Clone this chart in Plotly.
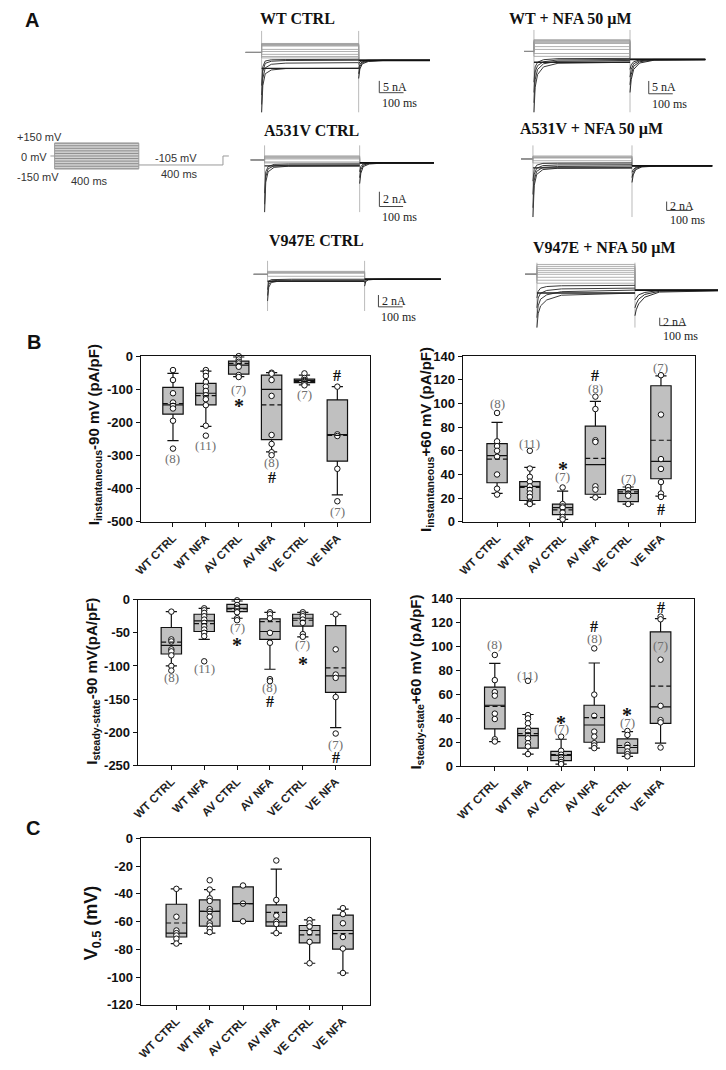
import plotly.graph_objects as go

W, H = 726, 1070
OFF = 8  # the page body margin shifts the figure by this many pixels

CATS = ["WT CTRL", "WT NFA", "AV CTRL", "AV NFA", "VE CTRL", "VE NFA"]

# ---- B top left: I instantaneous at -90 mV (pA/pF)
INST90_Q1 = [-175, -147, -54, -252, -80, -317]
INST90_MED = [-147, -112, -27, -100, -73, -237]
INST90_Q3 = [-94, -82, -15, -57, -69, -132]
INST90_LO = [-255, -212, -62, -289, -87, -419]
INST90_HI = [-52, -45, -2, -50, -57, -92]
INST90_MEAN = [-143, -119, -22, -147, -77, -239]
INST90_PTS = [
    [-42, -72, -112, -140, -150, -158, -195, -279],
    [-42, -50, -60, -78, -92, -105, -118, -130, -148, -210, -240],
    [0, -10, -17, -22, -32, -57, -63],
    [-50, -53, -72, -120, -238, -265, -290, -299],
    [-52, -66, -72, -75, -78, -82, -88],
    [-92, -236, -241, -340, -438],
]
INST90_N = ["(8)", "(11)", "(7)", "(8)", "(7)", "(7)"]
INST90_SIG = ["", "", "*", "#", "", "#"]

# ---- B top right: I instantaneous at +60 mV (pA/pF)
INST60_Q1 = [33, 18, 6, 23.3, 17, 36.4]
INST60_MED = [56, 30, 12, 48.3, 23.9, 51.1]
INST60_Q3 = [66, 34, 15, 80.8, 27.2, 115]
INST60_LO = [24, 15, 2, 20.6, 15, 21.7]
INST60_HI = [84, 46, 26, 101.7, 29.4, 123.3]
INST60_MEAN = [53, 29, 10, 53.6, 25.3, 68.9]
INST60_PTS = [
    [92, 68, 64, 60, 55, 40, 28, 23],
    [60, 45, 38, 34, 30, 27, 24, 21, 17, 16, 15],
    [29, 15, 13, 12, 8, 4, 2],
    [105.8, 95.3, 68.9, 67.5, 30, 27.2, 20.6],
    [29.4, 26.7, 24, 22, 15],
    [123.9, 90.6, 53, 44.7, 33.6, 23.9, 21],
]
INST60_N = ["(8)", "(11)", "(7)", "(8)", "(7)", "(7)"]
INST60_SIG = ["", "", "*", "#", "", "#"]

# ---- B bottom left: I steady-state at -90 mV (pA/pF)
SS90_Q1 = [-82, -48, -18, -60, -40, -140]
SS90_MED = [-69, -32, -13, -48, -28, -115]
SS90_Q3 = [-42, -22, -7, -29, -22, -39]
SS90_LO = [-100, -60, -28, -105, -56, -193]
SS90_HI = [-18, -13, -2, -19, -19, -22]
SS90_MEAN = [-64, -36, -14, -33, -31, -103]
SS90_PTS = [
    [-18, -60, -63, -75, -78, -84, -100, -107],
    [-13, -16, -20, -25, -30, -35, -40, -45, -50, -55, -93],
    [-1, -8, -12, -14, -19, -28, -31],
    [-19, -22, -28, -50, -65, -120, -123],
    [-19, -22, -25, -30, -35, -52, -56],
    [-22, -75, -113, -118, -147, -202],
]
SS90_N = ["(8)", "(11)", "(7)", "(8)", "(7)", "(7)"]
SS90_SIG = ["", "", "*", "#", "*", "#"]

# ---- B bottom right: I steady-state at +60 mV (pA/pF)
SS60_Q1 = [31.2, 15.2, 4.7, 20.1, 11, 35.9]
SS60_MED = [51, 25.7, 9.1, 34.5, 15.7, 49.7]
SS60_Q3 = [66.2, 31.7, 12.4, 51, 22.9, 112.3]
SS60_LO = [20.7, 10.2, 1.9, 15.2, 8.3, 19.3]
SS60_HI = [86, 43.3, 22.6, 86.3, 29, 123.3]
SS60_MEAN = [50, 27.3, 9.7, 40.6, 17.4, 67]
SS60_PTS = [
    [93, 72, 62, 59, 44, 39.5, 22.6, 20.7],
    [71.4, 42.8, 40, 35.9, 31.7, 29, 26.2, 23.4, 19.3, 16.6, 10.2],
    [24.8, 13, 9.7, 7.4, 5.5, 3.6, 1.9],
    [98.5, 59.9, 42.2, 29, 24.8, 19.3, 17.4, 15.2],
    [29.5, 26.2, 17.9, 15.7, 12.4, 10.2, 8.3],
    [125, 122.8, 89.1, 50.5, 38.6, 36.7, 15.7],
]
SS60_N = ["(8)", "(11)", "(7)", "(8)", "(7)", "(7)"]
SS60_SIG = ["", "", "*", "#", "*", "#"]

# ---- C: V0.5 (mV)
V05_Q1 = [-71.1, -63.3, -59.8, -63.3, -75.3, -79.8]
V05_MED = [-68.3, -52.7, -47, -60.2, -66.4, -66.4]
V05_Q3 = [-47.5, -44.4, -35, -48, -62.8, -55.3]
V05_LO = [-75.8, -68.3, -59.8, -68.3, -90, -97]
V05_HI = [-36.4, -36.9, -35, -22.2, -58.8, -51]
V05_MEAN = [-61, -52.7, -47, -53.4, -69.5, -68.7]
V05_PTS = [
    [-36.4, -56.5, -66.4, -68.3, -70, -72.3, -75.8],
    [-30.2, -36.9, -43.2, -45.1, -51, -52.7, -56.5, -61.2, -62.8, -65.2, -67.6],
    [-34, -47, -59.8],
    [-16, -44.4, -55.7, -60.2, -61.7, -68.3],
    [-58.8, -61.2, -63.5, -67.6, -74.6, -90],
    [-50.3, -54.6, -61.2, -71.1, -79.4, -97],
]

# ---- A: voltage protocol (mV, ms)
PROTO_STEPS = [-150, -120, -90, -60, -30, 0, 30, 60, 90, 120, 150]
PROTO_HOLD = 0
PROTO_TAIL = -105
PROTO_PULSE_MS = 400
PROTO_TAIL_MS = 400

# ---- A: current traces (nA); time points in ms from pulse onset
PULSE_T = [0, 5, 15, 40, 100, 400]
TAIL_T = [400, 405, 415, 440, 500, 900]

WT_CTRL_OUT = [3.8, 3.6, 3.4, 3.2, 3.0, 2.7, 1.3, 0.4, -0.8, -1.7, -2.3]
WT_CTRL_IN = [[-25.4, -14, -9, -7.4, -6.8, -6.7], [-22, -11, -6.5, -5, -4.5, -4.3],
              [-18, -8, -4.6, -3.7, -3.4, -3.3], [-14, -6, -3.6, -3.1, -3.0, -2.9]]
WT_CTRL_TAIL = [[-11, -7, -4.8, -3.8, -3.4, -3.3], [-9, -6, -4.3, -3.6, -3.3, -3.3],
                [-7, -5, -3.9, -3.4, -3.3, -3.3], [-5, -4, -3.5, -3.3, -3.3, -3.3]]
WT_CTRL_CAP = [9.2, -25.4]

WT_NFA_OUT = [4.6, 4.3, 4.0, 3.7, 3.4, 3.1, 1.9, 0.8, -0.8, -1.9]
WT_NFA_IN = [[-23.8, -14, -9, -6, -4.6, -4.2], [-20, -11, -7, -4.8, -3.8, -3.5],
             [-16, -8, -5.5, -4, -3.3, -3.1], [-12, -6, -4.2, -3.2, -2.8, -2.7]]
WT_NFA_TAIL = [[-16, -11, -7, -4.5, -3.4, -3.1], [-13, -9, -5.8, -4, -3.3, -3.1],
               [-10, -7, -4.8, -3.6, -3.2, -3.1], [-7, -5.2, -4, -3.3, -3.1, -3.1]]
WT_NFA_CAP = [8.5, -23.8]

AV_CTRL_OUT = [0.55, 0.45, 0.35, 0.25, 0.13, -0.27, -0.4]
AV_CTRL_IN = [[-7.1, -3, -1.6, -1.0, -0.85, -0.8], [-6, -2.3, -1.2, -0.8, -0.7, -0.67],
              [-4.5, -1.6, -0.9, -0.6, -0.55, -0.53]]
AV_CTRL_TAIL = [[-3.2, -1.8, -0.9, -0.55, -0.42, -0.4], [-2.4, -1.3, -0.7, -0.47, -0.4, -0.4],
                [-1.6, -0.9, -0.55, -0.42, -0.4, -0.4]]
AV_CTRL_CAP = [2.0, -7.1]

AV_NFA_OUT = [0.67, 0.5, 0.33, 0.2, -0.4, -0.9]
AV_NFA_IN = [[-13.1, -6, -3.5, -2.4, -2.1, -2.0], [-11, -4.8, -2.8, -1.9, -1.7, -1.6],
             [-8, -3.5, -2.1, -1.5, -1.35, -1.3], [-5, -2.4, -1.4, -1.0, -0.95, -0.9]]
AV_NFA_TAIL = [[-5.3, -3.6, -2.4, -1.8, -1.6, -1.55], [-4.2, -3, -2.1, -1.7, -1.56, -1.55],
               [-3, -2.4, -1.9, -1.6, -1.55, -1.55]]
AV_NFA_CAP = [3.1, -13.1]

VE_CTRL_OUT = [0.5, 0.4, 0.3, 0.17, -0.33]
VE_CTRL_IN = [[-4.5, -2.2, -1.4, -1.2, -1.17, -1.17], [-3.6, -1.7, -1.15, -1.02, -1.0, -1.0],
              [-2.6, -1.2, -0.9, -0.85, -0.83, -0.83]]
VE_CTRL_TAIL = [[-2.0, -1.2, -0.95, -0.86, -0.83, -0.83], [-1.5, -1.0, -0.88, -0.84, -0.83, -0.83]]
VE_CTRL_CAP = [2.3, -6.2]

VE_NFA_OUT = [2.5, 2.0, 1.5, 1.0, 0.5, 0, -0.75, -1.5, -2.25]
VE_NFA_IN = [[-13.5, -10, -8, -6.5, -5.3, -4.75], [-11, -8, -6.3, -5.2, -4.4, -4.0],
             [-8.5, -6, -4.8, -4.1, -3.7, -3.5], [-6, -4.3, -3.5, -3.1, -2.9, -2.8]]
VE_NFA_TAIL = [[-10.5, -9, -7.5, -5.8, -4.5, -4.0], [-8.5, -7.5, -6.3, -5.1, -4.3, -4.0],
               [-6.5, -6, -5.2, -4.6, -4.1, -4.0]]
VE_NFA_CAP = [3.0, -13.5]

BOX_W = 0.62


def dom_x(a, b):
    return [(a - OFF) / W, (b - OFF) / W]


def dom_y(a, b):
    return [1 - (b - OFF) / H, 1 - (a - OFF) / H]


fig = go.Figure()
axes = {}
notes = []
shapes = []


def names(n):
    if n == 1:
        return "x", "y", "xaxis", "yaxis"
    return f"x{n}", f"y{n}", f"xaxis{n}", f"yaxis{n}"


def text_px(x, y, s, size=11, family="Liberation Sans", color="#222", xanchor="center", angle=0):
    notes.append(dict(x=max(x - OFF, 0) / W, y=1 - (y - OFF) / H, xref="paper", yref="paper",
                      text=s, showarrow=False, xanchor=xanchor, yanchor="middle",
                      textangle=angle, font=dict(family=family, size=size, color=color)))


def box_panel(n, q1, med, q3, lo, hi, mean, pts, nlab, n_at, sig, sig_at,
              px, py, xr, yr, tickvals):
    xa, ya, xk, yk = names(n)
    fig.add_trace(go.Box(x=CATS, q1=q1, median=med, q3=q3, lowerfence=lo, upperfence=hi,
                         boxpoints=False, fillcolor="#c0c0c0",
                         line=dict(color="#111", width=1.2), width=BOX_W, whiskerwidth=0.55,
                         xaxis=xa, yaxis=ya, showlegend=False, hoverinfo="skip"))
    # mean as a dashed line across each box
    for i, m in enumerate(mean):
        shapes.append(dict(type="line", xref=xa, yref=ya, x0=i - BOX_W / 2, x1=i + BOX_W / 2,
                           y0=m, y1=m, line=dict(color="#111", width=1.2, dash="5px,3px")))
    xs = [c for c, p in zip(CATS, pts) for _ in p]
    ys = [v for p in pts for v in p]
    fig.add_trace(go.Scatter(x=xs, y=ys, mode="markers", xaxis=xa, yaxis=ya, showlegend=False,
                             marker=dict(symbol="circle", size=5.5, color="white",
                                         line=dict(color="#111", width=1)),
                             hoverinfo="skip", cliponaxis=False))
    axes[xk] = dict(domain=dom_x(*px), anchor=ya, type="category", categoryorder="array",
                    categoryarray=CATS, range=xr, showline=True, mirror=True, linecolor="#111",
                    linewidth=1.2, ticks="outside", ticklen=4, tickcolor="#111", tickangle=-45,
                    tickfont=dict(family="Liberation Sans", size=11.5, color="#222", weight="bold"),
                    showgrid=False, zeroline=False)
    axes[yk] = dict(domain=dom_y(*py), anchor=xa, range=yr, tickvals=tickvals,
                    ticktext=[str(v) for v in tickvals], showline=True, mirror=True,
                    linecolor="#111", linewidth=1.2, ticks="outside", ticklen=4, tickcolor="#111",
                    tickfont=dict(family="Liberation Sans", size=13, color="#111", weight="bold"),
                    showgrid=False, zeroline=False)
    if nlab:
        for i, t in enumerate(nlab):
            notes.append(dict(x=i, y=n_at[i], xref=xa, yref=ya, text=t, showarrow=False,
                              font=dict(family="Liberation Serif", size=13, color="#6f6f6f")))
        for i, s in enumerate(sig):
            if s:
                notes.append(dict(x=i, y=sig_at[i], xref=xa, yref=ya, text="<b>" + s + "</b>",
                                  showarrow=False, yshift=-3 if s == "*" else 0,
                                  font=dict(family="Liberation Serif",
                                            size=20 if s == "*" else 16, color="#111")))


box_panel(1, INST90_Q1, INST90_MED, INST90_Q3, INST90_LO, INST90_HI, INST90_MEAN, INST90_PTS,
          INST90_N, [-309, -269, -102, -322, -115, -469], INST90_SIG, [0, 0, -142, -367, 0, -57],
          (135, 366), (354, 522), [-0.98, 5.98], [-500, 0], [-500, -400, -300, -200, -100, 0])
box_panel(2, INST60_Q1, INST60_MED, INST60_Q3, INST60_LO, INST60_HI, INST60_MEAN, INST60_PTS,
          INST60_N, [100, 66, 38, 112.8, 36.9, 130.8], INST60_SIG, [0, 0, 47, 123.9, 0, 10.6],
          (460, 695), (354, 522), [-1.05, 6.05], [0, 140], [0, 20, 40, 60, 80, 100, 120, 140])
box_panel(3, SS90_Q1, SS90_MED, SS90_Q3, SS90_LO, SS90_HI, SS90_MEAN, SS90_PTS,
          SS90_N, [-117, -104, -42, -133, -68, -218], SS90_SIG, [0, 0, -64, -154, -92, -238],
          (132, 366), (601, 769), [-1.02, 6.03], [-250, 0], [-250, -200, -150, -100, -50, 0])
box_panel(4, SS60_Q1, SS60_MED, SS60_Q3, SS60_LO, SS60_HI, SS60_MEAN, SS60_PTS,
          SS60_N, [101.5, 75.9, 31.2, 106.8, 36.4, 101], SS60_SIG, [0, 0, 38.6, 117, 45, 133],
          (458, 694), (600, 770), [-1.03, 6.02], [0, 140], [0, 20, 40, 60, 80, 100, 120, 140])
box_panel(5, V05_Q1, V05_MED, V05_Q3, V05_LO, V05_HI, V05_MEAN, V05_PTS,
          None, None, None, None,
          (135, 366), (843, 1012), [-1.07, 5.8], [-120, 0], [-120, -100, -80, -60, -40, -20, 0])

# y titles
text_px(88, 434, "<b>I<sub>instantaneous</sub>-90 mV (pA/pF)</b>", size=15, angle=-90, color="#111")
text_px(424, 438, "<b>I<sub>instantaneous</sub>+60 mV (pA/pF)</b>", size=15, angle=-90, color="#111")
text_px(86, 684, "<b>I<sub>steady-state</sub>-90 mV(pA/pF)</b>", size=15, angle=-90, color="#111")
text_px(413, 685, "<b>I<sub>steady-state</sub>+60 mV (pA/pF)</b>", size=15, angle=-90, color="#111")
text_px(86, 929, "<b>V<sub>0.5</sub> (mV)</b>", size=18, angle=-90, color="#111")

# panel letters
text_px(25, 13, "<b>A</b>", size=20, color="#111")
text_px(27, 340, "<b>B</b>", size=20, color="#111")
text_px(26, 833, "<b>C</b>", size=20, color="#111")

# ---- voltage protocol
xa, ya, xk, yk = names(6)
p_dx, p_t0, p_px400, p_dy, p_zero, p_px150 = (40, 230), 48, 85, (125, 180), 151, 13
mpp = PROTO_PULSE_MS / p_px400
axes[xk] = dict(domain=dom_x(*p_dx), anchor=ya, visible=False,
                range=[(p_dx[0] - p_t0) * mpp, (p_dx[1] - p_t0) * mpp])
axes[yk] = dict(domain=dom_y(*p_dy), anchor=xa, visible=False,
                range=[-(p_dy[1] - p_zero) * 150 / p_px150, (p_zero - p_dy[0]) * 150 / p_px150])
lo_s, hi_s = min(PROTO_STEPS), max(PROTO_STEPS)
fig.add_trace(go.Scatter(x=[0, PROTO_PULSE_MS], y=[lo_s, lo_s], mode="lines", line=dict(width=0),
                         xaxis=xa, yaxis=ya, showlegend=False, hoverinfo="skip"))
fig.add_trace(go.Scatter(x=[0, PROTO_PULSE_MS], y=[hi_s, hi_s], mode="lines", line=dict(width=0),
                         fill="tonexty", fillcolor="#d2d2d2",
                         xaxis=xa, yaxis=ya, showlegend=False, hoverinfo="skip"))
for v in PROTO_STEPS:
    fig.add_trace(go.Scatter(x=[0, PROTO_PULSE_MS], y=[v, v], mode="lines",
                             line=dict(color="#8c8c8c", width=1),
                             xaxis=xa, yaxis=ya, showlegend=False, hoverinfo="skip"))
fig.add_trace(go.Scatter(x=[0, 0, PROTO_PULSE_MS, PROTO_PULSE_MS, 0],
                         y=[lo_s, hi_s, hi_s, lo_s, lo_s], mode="lines",
                         line=dict(color="#9a9a9a", width=1),
                         xaxis=xa, yaxis=ya, showlegend=False, hoverinfo="skip"))
t_end = PROTO_PULSE_MS + PROTO_TAIL_MS
fig.add_trace(go.Scatter(x=[-20, 0], y=[PROTO_HOLD, PROTO_HOLD], mode="lines",
                         line=dict(color="#9a9a9a", width=1),
                         xaxis=xa, yaxis=ya, showlegend=False, hoverinfo="skip"))
fig.add_trace(go.Scatter(x=[PROTO_PULSE_MS, t_end, t_end, t_end + 28],
                         y=[PROTO_TAIL, PROTO_TAIL, PROTO_HOLD, PROTO_HOLD], mode="lines",
                         line=dict(color="#9a9a9a", width=1),
                         xaxis=xa, yaxis=ya, showlegend=False, hoverinfo="skip"))
text_px(8, 132, "+150 mV", color="#333", xanchor="left")
text_px(42, 152, "0 mV", color="#333", xanchor="right")
text_px(8, 172, "-150 mV", color="#333", xanchor="left")
text_px(83, 176, "400 ms", color="#333")
text_px(147, 153, "-105 mV", color="#333", xanchor="left")
text_px(153, 169, "400 ms", color="#333", xanchor="left")

# ---- current traces
GEOM = [
    # title, title px, dx, pulse px, dy, holding px, px per nA, scale bar (ms, nA top, nA length)
    ("WT CTRL", (293, 12), (241, 427), (257, 355), (24, 107), 46, 2.4, (485, -12, 5)),
    ("WT + NFA 50 µM", (569, 12), (522, 705), (532, 629), (23, 107), 45, 2.6, (478, -11.5, 5)),
    ("A531V CTRL", (307, 125), (246, 431), (260, 356), (140, 208), 155, 7.5, (483, -4.3, 2)),
    ("A531V + NFA 50 µM", (590, 124), (519, 712), (531, 631), (140, 213), 154, 4.5, (540, -9.6, 2)),
    ("V947E CTRL", (312, 237), (249, 438), (263, 361), (257, 310), 271, 6.0, (457, -3.5, 2)),
    ("V947E + NFA 50 µM", (603, 244), (523, 723), (535, 634), (259, 330), 271, 4.0, (501, -11, 2)),
]
TRACES = [
    (WT_CTRL_OUT, WT_CTRL_IN, WT_CTRL_TAIL, WT_CTRL_CAP),
    (WT_NFA_OUT, WT_NFA_IN, WT_NFA_TAIL, WT_NFA_CAP),
    (AV_CTRL_OUT, AV_CTRL_IN, AV_CTRL_TAIL, AV_CTRL_CAP),
    (AV_NFA_OUT, AV_NFA_IN, AV_NFA_TAIL, AV_NFA_CAP),
    (VE_CTRL_OUT, VE_CTRL_IN, VE_CTRL_TAIL, VE_CTRL_CAP),
    (VE_NFA_OUT, VE_NFA_IN, VE_NFA_TAIL, VE_NFA_CAP),
]

for k, (g, tr) in enumerate(zip(GEOM, TRACES)):
    title, tpx, dx, pp, dy, hold, ppn, sb = g
    out, inn, tail, cap = tr
    n = 7 + k
    xa, ya, xk, yk = names(n)
    mpp = 400 / (pp[1] - pp[0])
    axes[xk] = dict(domain=dom_x(*dx), anchor=ya, visible=False,
                    range=[(dx[0] - pp[0]) * mpp, (dx[1] - pp[0]) * mpp])
    axes[yk] = dict(domain=dom_y(*dy), anchor=xa, visible=False,
                    range=[-(dy[1] - hold) / ppn, (hold - dy[0]) / ppn])
    tail_lvl = tail[0][-1]

    def line(x, y, color, width):
        fig.add_trace(go.Scatter(x=x, y=y, mode="lines", line=dict(color=color, width=width),
                                 xaxis=xa, yaxis=ya, showlegend=False, hoverinfo="skip"))

    line([0, 0], cap, "#a8a8a8", 0.8)
    line([400, 400], cap, "#a8a8a8", 0.8)
    for lv in out:
        line([-300, 0, 0, 400, 400, 900], [0, 0, lv, lv, tail_lvl, tail_lvl], "#9c9c9c", 0.8)
    line([-300, 0], [0, 0], "#8a8a8a", 1)
    for v in inn:
        line(PULSE_T, v, "#3a3a3a", 1)
    line([0, 400], [inn[0][-1], inn[0][-1]], "#222", 1.4)
    for v in tail:
        line(TAIL_T, v, "#2a2a2a", 1)
    line([400, 900], [tail_lvl, tail_lvl], "#111", 1.8)

    # scale bar
    st, stop, sn = sb
    line([st, st, st + 100], [stop, stop - sn, stop - sn], "#444", 1)
    notes.append(dict(x=st + 6, y=stop - sn / 2, xref=xa, yref=ya, text=f"{sn} nA",
                      showarrow=False, xanchor="left", yanchor="middle",
                      font=dict(family="Liberation Serif", size=12, color="#222")))
    notes.append(dict(x=st + 4, y=stop - sn, xref=xa, yref=ya, text="100 ms", showarrow=False,
                      xanchor="left", yanchor="top", yshift=-1,
                      font=dict(family="Liberation Serif", size=12, color="#222")))
    text_px(tpx[0], tpx[1], "<b>" + title + "</b>", size=16, family="Liberation Serif",
            color="#111")

fig.update_layout(width=W, height=H, margin=dict(l=0, r=0, t=0, b=0),
                  paper_bgcolor="white", plot_bgcolor="white", showlegend=False,
                  annotations=notes, shapes=shapes, **axes)

fig.write_html("out.html")
